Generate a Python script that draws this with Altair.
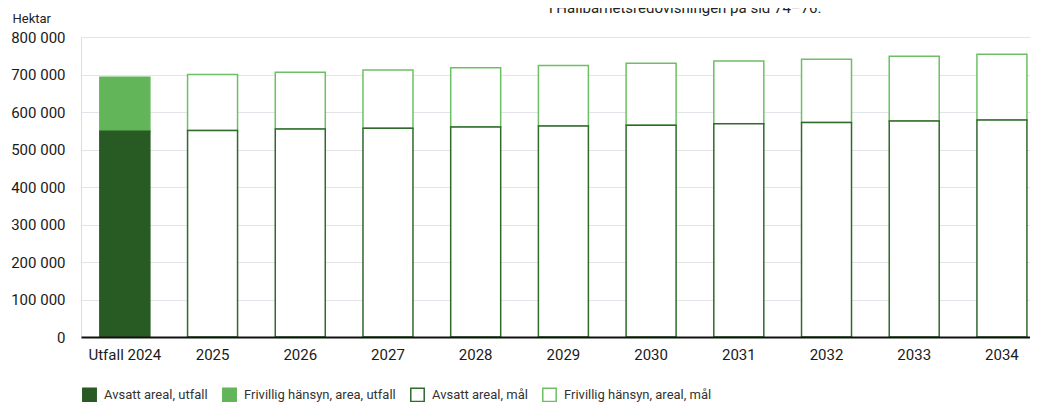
import altair as alt
import pandas as pd

categories = ["Utfall 2024", "2025", "2026", "2027", "2028", "2029",
              "2030", "2031", "2032", "2033", "2034"]
avsatt = [548500, 551000, 555000, 557000, 560000, 563000,
          565000, 569000, 572000, 576000, 579000]
frivillig = [144000, 149000, 151000, 155000, 158000, 161000,
             165000, 167000, 169000, 173000, 175000]
series = ["Avsatt areal, utfall", "Frivillig hänsyn, area, utfall",
          "Avsatt areal, mål", "Frivillig hänsyn, areal, mål"]
fills = ["#285a24", "#63b55a", "#ffffff", "#ffffff"]
strokes = ["#285a24", "#63b55a", "#2f6a2b", "#6cc063"]
y_ticks = [0, 100000, 200000, 300000, 400000, 500000, 600000, 700000, 800000]
note = "i Hållbarhetsredovisningen på sid 74–76."

rows = []
for i, cat in enumerate(categories):
    f_name = series[1] if i == 0 else series[3]
    rows.append({"kat": cat, "serie": f_name, "y0": avsatt[i], "y1": avsatt[i] + frivillig[i], "ord": 0})
for i, cat in enumerate(categories):
    a_name = series[0] if i == 0 else series[2]
    rows.append({"kat": cat, "serie": a_name, "y0": 0, "y1": avsatt[i], "ord": 1})
df = pd.DataFrame(rows)

legend = alt.Legend(
    title=None, orient="none", legendX=1, legendY=350, direction="horizontal",
    symbolType="square", symbolSize=180, symbolStrokeWidth=1.5, symbolOpacity=1,
    labelFontSize=13, labelColor="#333333", labelOffset=7, columnPadding=11,
    padding=0, labelFont="Roboto",
)

bars = alt.Chart(df).mark_bar(strokeWidth=1.5).encode(
    x=alt.X("kat:N", sort=categories,
            scale=alt.Scale(paddingInner=0.43, paddingOuter=0.125, align=0.86),
            axis=alt.Axis(title=None, labelAngle=0, labelFontSize=15, labelColor="#1a1a1a",
                          labelPadding=10, ticks=False, domainColor="#111111",
                          domainWidth=2, zindex=1, labelFont="Roboto")),
    y=alt.Y("y1:Q", scale=alt.Scale(domain=[0, 800000], nice=False),
            axis=alt.Axis(title="Hektar", values=y_ticks, ticks=False, domain=False,
                          labelPadding=16, labelFontSize=15, labelColor="#1a1a1a",
                          labelFont="Roboto",
                          labelExpr="replace(format(datum.value, ','), ',', ' ')",
                          gridColor="#e3e4e9", gridWidth=1.2,
                          titleAngle=0, titleX=-69, titleY=-19, titleAlign="left",
                          titleBaseline="middle", titleFontSize=13,
                          titleFontWeight="normal", titleColor="#222222",
                          titleFont="Roboto")),
    y2="y0:Q",
    fill=alt.Fill("serie:N", scale=alt.Scale(domain=series, range=fills), legend=legend),
    stroke=alt.Stroke("serie:N", scale=alt.Scale(domain=series, range=strokes), legend=legend),
    order=alt.Order("ord:Q"),
)

note_df = pd.DataFrame({"t": [note]})
note_text = alt.Chart(note_df).mark_text(
    align="left", baseline="alphabetic", fontSize=15, font="Roboto", color="#222222"
).encode(text="t:N", x=alt.value(468), y=alt.value(-24))

chart = alt.layer(bars, note_text).properties(
    width=949, height=300,
    autosize=alt.AutoSizeParams(type="none"),
    padding={"left": 73, "top": 29, "right": 0, "bottom": 65},
).configure_view(stroke=None).configure(font="Roboto")

chart.save("out.html", embed_options={"renderer": "svg", "actions": False})
